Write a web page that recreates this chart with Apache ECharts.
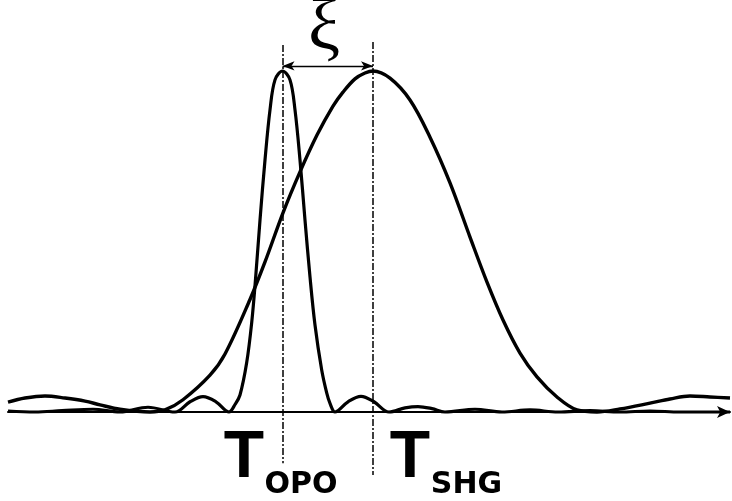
<!DOCTYPE html>
<html>
<head>
<meta charset="utf-8">
<script src="https://cdn.jsdelivr.net/npm/echarts@6/dist/echarts.min.js"></script>
<style>
html,body{margin:0;padding:0;background:#fff;}
#chart{width:732px;height:501px;}
</style>
</head>
<body>
<div id="chart"></div>
<script>
// Wide (SHG) tuning curve: position (arb. units) and normalized intensity
const wideX = [8, 25, 45, 65, 85, 100, 120, 150, 165, 183, 210, 225, 250, 265, 283, 300, 317, 333, 343, 355, 365, 373, 390, 410, 430, 450, 470, 487, 503, 520, 537, 557, 577, 597, 620, 650, 670, 690, 710, 730];
const wideY = [0.029, 0.041, 0.047, 0.041, 0.032, 0.021, 0.008, 0.0, 0.006, 0.036, 0.108, 0.170, 0.330, 0.440, 0.584, 0.704, 0.812, 0.897, 0.938, 0.977, 0.994, 1.0, 0.979, 0.915, 0.806, 0.672, 0.513, 0.381, 0.270, 0.173, 0.103, 0.044, 0.006, 0.0, 0.009, 0.026, 0.038, 0.047, 0.044, 0.041];

// Narrow (OPO) tuning curve
const narrowX = [8, 35, 62, 93, 120, 148, 175, 190, 203, 216, 229, 235, 240, 246.7, 251.7, 255.7, 260, 265, 270, 275, 282.5, 290, 295, 300, 305, 310, 315, 321.7, 326.7, 330, 335, 348, 361, 374, 389, 405, 418, 432, 445, 475, 502, 530, 558, 590, 620, 650, 680, 730];
const narrowY = [0.003, 0.0, 0.004, 0.008, 0.0, 0.014, 0.0, 0.03, 0.045, 0.03, 0.0, 0.022, 0.05, 0.145, 0.262, 0.396, 0.563, 0.739, 0.886, 0.974, 1.0, 0.974, 0.886, 0.739, 0.563, 0.396, 0.255, 0.123, 0.056, 0.025, 0.0, 0.03, 0.046, 0.03, 0.0, 0.012, 0.016, 0.01, 0.0, 0.008, 0.0, 0.006, 0.0, 0.004, 0.0, 0.003, 0.0, 0.0];

// Annotation texts
const labelTexts = ['T', 'OPO', 'T', 'SHG'];
const shiftSymbol = 'ξ';

function pairs(xs, ys) { return xs.map((x, i) => [x, ys[i]]); }
function peakX(xs, ys) { let m = 0; ys.forEach((v, i) => { if (v > ys[m]) m = i; }); return xs[m]; }

const xOPO = peakX(narrowX, narrowY);
const xSHG = peakX(wideX, wideY);

const chart = echarts.init(document.getElementById('chart'), null, {renderer: 'canvas'});

const dashStyle = {type: [7, 2, 2, 2], width: 1.5, color: '#000'};
const bigT = {color: '#000', fontFamily: 'Liberation Sans', fontWeight: 'bold', fontSize: 66, align: 'center', verticalAlign: 'middle'};
const subT = {color: '#000', fontFamily: 'DejaVu Sans', fontWeight: 'bold', fontSize: 30, align: 'center', verticalAlign: 'middle'};

const option = {
  animation: false,
  backgroundColor: '#fff',
  grid: {left: 8, right: 2, top: 2.8, height: 494.45},
  xAxis: {
    type: 'value', min: 8, max: 730,
    axisLine: {show: true, onZero: true, symbol: ['none', 'arrow'], symbolSize: [9, 13], lineStyle: {color: '#000', width: 2}},
    axisTick: {show: false}, axisLabel: {show: false}, splitLine: {show: false}
  },
  yAxis: {
    type: 'value', min: -0.25, max: 1.2, show: false,
    splitLine: {show: false}
  },
  series: [
    {
      name: 'SHG', type: 'line', data: pairs(wideX, wideY), showSymbol: false, smooth: 0.35,
      lineStyle: {color: '#000', width: 3.4}, z: 3
    },
    {
      name: 'OPO', type: 'line', data: pairs(narrowX, narrowY), showSymbol: false, smooth: 0.35,
      lineStyle: {color: '#000', width: 3.2}, z: 3
    },
    {
      name: 'guides', type: 'line', data: [],
      markLine: {
        silent: true, symbol: ['none', 'none'], label: {show: false},
        lineStyle: dashStyle,
        data: [
          [{coord: [xOPO, 1.076]}, {coord: [xOPO, -0.15]}],
          [{coord: [xSHG, 1.085]}, {coord: [xSHG, -0.185]}]
        ]
      }
    },
    {
      name: 'shift', type: 'line', data: [],
      markLine: {
        silent: true, symbol: ['arrow', 'arrow'], symbolSize: [7, 12], label: {show: false},
        lineStyle: {type: 'solid', width: 1.4, color: '#000'},
        data: [
          [{coord: [xOPO, 1.015]}, {coord: [xSHG, 1.015]}]
        ]
      }
    },
    {
      name: 'labels', type: 'scatter', symbolSize: 0, silent: true,
      itemStyle: {opacity: 1},
      label: {show: true, position: 'inside', color: '#000', formatter: p => p.name},
      data: [
        {name: shiftSymbol, value: [324, 1.12], label: {color: '#000', fontFamily: 'Liberation Serif', fontSize: 72, align: 'center', verticalAlign: 'middle'}},
        {name: labelTexts[0], value: [244, -0.138], label: bigT},
        {name: labelTexts[1], value: [301, -0.216], label: subT},
        {name: labelTexts[2], value: [410, -0.138], label: bigT},
        {name: labelTexts[3], value: [466.5, -0.216], label: subT}
      ]
    }
  ]
};
chart.setOption(option);
</script>
</body>
</html>
